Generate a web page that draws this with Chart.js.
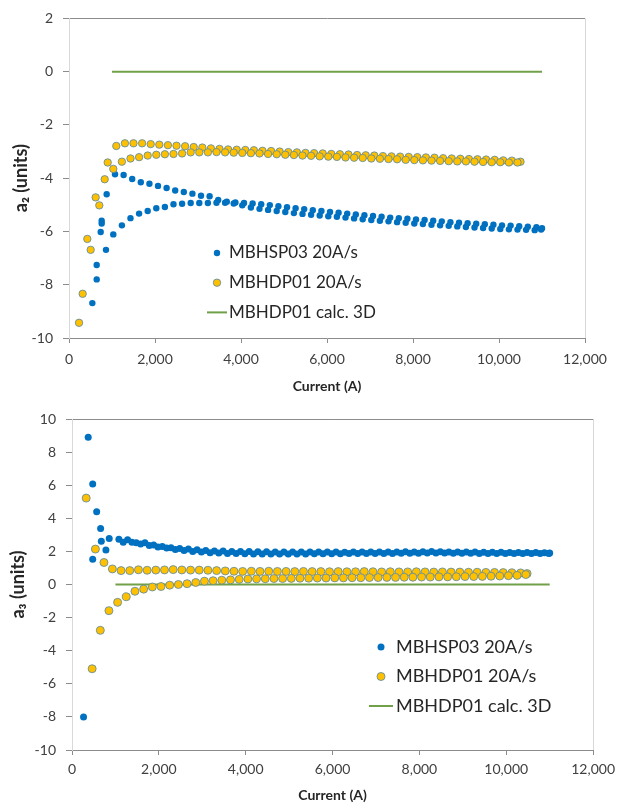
<!DOCTYPE html>
<html>
<head>
<meta charset="utf-8">
<script src="https://cdn.jsdelivr.net/npm/chart.js@4.4.1/dist/chart.umd.min.js"></script>
<style>
  html, body { margin: 0; padding: 0; background: #ffffff; overflow: hidden; }
  #c1 { position: absolute; left: 0; top: 0; }
  #c2 { position: absolute; left: 0; top: 400px; }
</style>
</head>
<body>
<canvas id="c1" width="621" height="400"></canvas>
<canvas id="c2" width="621" height="406"></canvas>
<script>
// ---------------- DATA ----------------
const seriesLabels = ['MBHSP03 20A/s', 'MBHDP01 20A/s', 'MBHDP01 calc. 3D'];
const xTitle = 'Current (A)';
const yTitleA2 = 'a\u2082 (units)';
const yTitleA3 = 'a\u2083 (units)';

// ---- a2, MBHSP03 ----
const hsp03A2StartI = [543, 644, 644, 737, 760, 760, 860, 876];
const hsp03A2Start  = [-8.69, -7.80, -7.26, -6.02, -5.60, -5.70, -6.69, -4.60];
const hsp03A2UpperI = [1070,1270,1470,1670,1870,2070,2270,2470,2670,2870,3070,3270,3470,3670,3870,4070,4270,4470,4670,4870,5070,5270,5470,5670,5870,6070,6270,6470,6670,6870,7070,7270,7470,7670,7870,8070,8270,8470,8670,8870,9070,9270,9470,9670,9870,10070,10270,10470,10670,10870,11000];
const hsp03A2Upper  = [-3.85,-3.88,-4.03,-4.15,-4.21,-4.29,-4.37,-4.46,-4.52,-4.58,-4.66,-4.68,-4.82,-4.88,-4.91,-4.93,-4.95,-4.98,-5.01,-5.05,-5.09,-5.13,-5.16,-5.20,-5.23,-5.27,-5.30,-5.33,-5.36,-5.39,-5.42,-5.45,-5.48,-5.50,-5.52,-5.55,-5.57,-5.60,-5.62,-5.65,-5.67,-5.69,-5.71,-5.73,-5.75,-5.77,-5.78,-5.80,-5.82,-5.84,-5.88];
const hsp03A2LowerI = [1030,1230,1430,1630,1830,2030,2230,2430,2630,2830,3030,3230,3430,3630,3830,4030,4230,4430,4630,4830,5030,5230,5430,5630,5830,6030,6230,6430,6630,6830,7030,7230,7430,7630,7830,8030,8230,8430,8630,8830,9030,9230,9430,9630,9830,10030,10230,10430,10630,10830,10980];
const hsp03A2Lower  = [-6.11,-5.77,-5.50,-5.33,-5.23,-5.13,-5.08,-4.98,-4.96,-4.93,-4.93,-4.93,-4.92,-4.92,-4.95,-5.02,-5.10,-5.15,-5.19,-5.23,-5.27,-5.31,-5.34,-5.37,-5.40,-5.43,-5.45,-5.48,-5.51,-5.54,-5.57,-5.60,-5.62,-5.65,-5.67,-5.70,-5.72,-5.75,-5.77,-5.79,-5.81,-5.83,-5.85,-5.87,-5.89,-5.91,-5.92,-5.93,-5.94,-5.95,-5.93];

// ---- a2, MBHDP01 ----
const hdp01A2StartI = [233, 318, 426, 504, 620, 705, 830, 900];
const hdp01A2Start  = [-9.43, -8.34, -6.28, -6.69, -4.72, -5.02, -4.04, -3.41];
const hdp01A2UpperI = [1100,1300,1500,1700,1900,2100,2300,2500,2700,2900,3100,3300,3500,3700,3900,4100,4300,4500,4700,4900,5100,5300,5500,5700,5900,6100,6300,6500,6700,6900,7100,7300,7500,7700,7900,8100,8300,8500,8700,8900,9100,9300,9500,9700,9900,10100,10300,10500];
const hdp01A2Upper  = [-2.79,-2.69,-2.69,-2.69,-2.72,-2.74,-2.76,-2.78,-2.80,-2.83,-2.85,-2.88,-2.90,-2.92,-2.93,-2.94,-2.95,-2.97,-2.98,-3.00,-3.02,-3.03,-3.05,-3.06,-3.07,-3.09,-3.10,-3.11,-3.13,-3.14,-3.15,-3.17,-3.18,-3.19,-3.20,-3.21,-3.22,-3.23,-3.25,-3.26,-3.27,-3.28,-3.29,-3.30,-3.31,-3.33,-3.34,-3.38];
const hdp01A2LowerI = [1030,1230,1430,1630,1830,2030,2230,2430,2630,2830,3030,3230,3430,3630,3830,4030,4230,4430,4630,4830,5030,5230,5430,5630,5830,6030,6230,6430,6630,6830,7030,7230,7430,7630,7830,8030,8230,8430,8630,8830,9030,9230,9430,9630,9830,10030,10230,10430];
const hdp01A2Lower  = [-3.65,-3.38,-3.26,-3.21,-3.15,-3.12,-3.10,-3.09,-3.07,-3.03,-3.03,-3.03,-3.02,-3.03,-3.04,-3.05,-3.06,-3.07,-3.09,-3.10,-3.12,-3.13,-3.15,-3.16,-3.18,-3.19,-3.20,-3.22,-3.23,-3.24,-3.26,-3.27,-3.28,-3.29,-3.31,-3.32,-3.33,-3.34,-3.35,-3.36,-3.37,-3.37,-3.38,-3.39,-3.40,-3.40,-3.41,-3.41];

// ---- a3, MBHSP03 ----
const hsp03A3StartI = [266, 373, 477, 477, 568, 659, 675, 781, 857];
const hsp03A3Start  = [-8.0, 8.9, 6.07, 1.53, 4.40, 3.39, 2.62, 2.08, 2.78];
const hsp03A3UpperI = [1080,1280,1480,1680,1880,2080,2280,2480,2680,2880,3080,3280,3480,3680,3880,4080,4280,4480,4680,4880,5080,5280,5480,5680,5880,6080,6280,6480,6680,6880,7080,7280,7480,7680,7880,8080,8280,8480,8680,8880,9080,9280,9480,9680,9880,10080,10280,10480,10680,10880,11000];
const hsp03A3Upper  = [2.74,2.70,2.52,2.52,2.38,2.30,2.22,2.18,2.14,2.10,2.05,2.03,2.02,2.00,2.00,1.99,1.98,1.98,1.97,1.97,1.96,1.96,1.96,1.97,1.96,1.96,1.95,1.96,1.96,1.97,1.96,1.97,1.97,1.98,1.97,1.98,1.99,1.98,1.97,1.97,1.96,1.96,1.95,1.95,1.95,1.94,1.94,1.94,1.93,1.92,1.90];
const hsp03A3LowerI = [1180,1380,1580,1780,1980,2180,2380,2580,2780,2980,3180,3380,3580,3780,3980,4180,4380,4580,4780,4980,5180,5380,5580,5780,5980,6180,6380,6580,6780,6980,7180,7380,7580,7780,7980,8180,8380,8580,8780,8980,9180,9380,9580,9780,9980,10180,10380,10580,10780,10980];
const hsp03A3Lower  = [2.56,2.55,2.44,2.35,2.26,2.20,2.12,2.06,2.00,1.96,1.92,1.90,1.88,1.87,1.86,1.85,1.85,1.85,1.84,1.85,1.85,1.85,1.86,1.86,1.86,1.86,1.87,1.87,1.87,1.88,1.88,1.88,1.89,1.89,1.89,1.90,1.90,1.90,1.89,1.89,1.89,1.88,1.88,1.88,1.88,1.88,1.87,1.87,1.87,1.88];

// ---- a3, MBHDP01 ----
const hdp01A3StartI = [327, 464, 539, 652, 736];
const hdp01A3Start  = [5.22, -5.09, 2.14, -2.77, 1.33];
const hdp01A3UpperI = [930,1130,1330,1530,1730,1930,2130,2330,2530,2730,2930,3130,3330,3530,3730,3930,4130,4330,4530,4730,4930,5130,5330,5530,5730,5930,6130,6330,6530,6730,6930,7130,7330,7530,7730,7930,8130,8330,8530,8730,8930,9130,9330,9530,9730,9930,10130,10330,10480];
const hdp01A3Upper  = [0.94,0.84,0.84,0.89,0.86,0.87,0.88,0.90,0.88,0.87,0.87,0.86,0.84,0.82,0.80,0.79,0.80,0.79,0.80,0.79,0.79,0.78,0.79,0.78,0.78,0.77,0.78,0.77,0.77,0.78,0.77,0.76,0.77,0.76,0.76,0.77,0.76,0.75,0.76,0.75,0.75,0.74,0.74,0.73,0.73,0.72,0.71,0.70,0.66];
const hdp01A3LowerI = [850,1050,1250,1450,1650,1850,2050,2250,2450,2650,2850,3050,3250,3450,3650,3850,4050,4250,4450,4650,4850,5050,5250,5450,5650,5850,6050,6250,6450,6650,6850,7050,7250,7450,7650,7850,8050,8250,8450,8650,8850,9050,9250,9450,9650,9850,10050,10250,10450];
const hdp01A3Lower  = [-1.58,-1.08,-0.74,-0.41,-0.28,-0.15,-0.12,-0.04,0.00,0.05,0.12,0.20,0.23,0.26,0.28,0.31,0.33,0.34,0.35,0.36,0.36,0.37,0.38,0.38,0.39,0.39,0.40,0.40,0.41,0.41,0.42,0.42,0.43,0.43,0.44,0.44,0.45,0.45,0.46,0.46,0.47,0.48,0.48,0.49,0.50,0.51,0.53,0.55,0.60];

// ---- calculated 3D ----
const calcI  = [1000, 11000];
const calcA2 = [0, 0];
const calcA3 = [0, 0];

// ---- axes ----
const xMin = 0, xMax = 12000, xStep = 2000;
const a2Min = -10, a2Max = 2, a2Step = 2;
const a3Min = -10, a3Max = 10, a3Step = 2;

// ---------------- HELPERS ----------------
function pts(xs, ys) { return xs.map((x, i) => ({ x: x, y: ys[i] })); }

const FONT = 'Lato, "Open Sans", "DejaVu Sans", sans-serif';
const BLUE = '#0070C0';
const YELLOW = '#FFC000';
const YELLOW_EDGE = 'rgba(95,140,160,0.85)';
const GREEN = '#70A048';
const AXIS_DARK = '#8C8C8C';
const AXIS_LIGHT = '#D9D9D9';
const TEXT = '#404040';

const insideLegend = {
  id: 'insideLegend',
  afterDatasetsDraw(chart, args, o) {
    if (!o || !o.show) return;
    const ctx = chart.ctx;
    ctx.save();
    ctx.font = o.font;
    ctx.textAlign = 'left';
    ctx.textBaseline = 'middle';
    chart.data.datasets.forEach((ds, i) => {
      const y = o.y + i * o.gap;
      if (ds.showLine) {
        ctx.strokeStyle = ds.borderColor;
        ctx.lineWidth = ds.borderWidth;
        ctx.beginPath();
        ctx.moveTo(o.x - o.lineHalf, y);
        ctx.lineTo(o.x + o.lineHalf, y);
        ctx.stroke();
      } else {
        ctx.beginPath();
        ctx.arc(o.x, y, ds.pointRadius, 0, Math.PI * 2);
        ctx.fillStyle = ds.backgroundColor;
        ctx.fill();
        if (ds.borderWidth) {
          ctx.strokeStyle = ds.borderColor;
          ctx.lineWidth = ds.borderWidth;
          ctx.stroke();
        }
      }
      ctx.fillStyle = o.color;
      ctx.fillText(ds.label, o.textX, y);
    });
    ctx.restore();
  }
};

function makeChart(id, cfg) {
  const datasets = [
    {
      label: seriesLabels[0],
      data: cfg.blue,
      backgroundColor: BLUE,
      borderColor: BLUE,
      borderWidth: 0,
      pointRadius: cfg.blueR,
      pointHoverRadius: cfg.blueR,
      showLine: false,
      order: 3
    },
    {
      label: seriesLabels[1],
      data: cfg.yellow,
      backgroundColor: YELLOW,
      borderColor: YELLOW_EDGE,
      borderWidth: 1,
      pointRadius: cfg.yellowR,
      pointHoverRadius: cfg.yellowR,
      showLine: false,
      order: 1
    },
    {
      label: seriesLabels[2],
      data: cfg.calc,
      borderColor: GREEN,
      backgroundColor: GREEN,
      borderWidth: 2,
      pointRadius: 0,
      showLine: true,
      order: 2
    }
  ];
  return new Chart(document.getElementById(id), {
    type: 'scatter',
    data: { datasets: datasets },
    plugins: [insideLegend],
    options: {
      responsive: false,
      animation: false,
      devicePixelRatio: 1,
      layout: { padding: cfg.padding },
      plugins: {
        legend: { display: false },
        tooltip: { enabled: false },
        insideLegend: Object.assign({ show: true, color: '#262626' }, cfg.legend)
      },
      scales: {
        x: {
          type: 'linear',
          min: xMin, max: xMax,
          afterFit: s => { s.height = cfg.xHeight; },
          ticks: {
            stepSize: xStep,
            color: TEXT,
            font: { family: FONT, size: 14 },
            padding: cfg.xTickPad,
            maxRotation: 0,
            callback: v => Number(v).toLocaleString('en-US')
          },
          grid: {
            color: c => (c.tick && c.tick.value === xMax) ? AXIS_LIGHT : 'rgba(0,0,0,0)',
            tickColor: AXIS_DARK,
            tickLength: 5,
            lineWidth: 1
          },
          border: { display: true, color: AXIS_DARK, width: 1 },
          title: {
            display: true,
            text: xTitle,
            color: '#262626',
            font: { family: FONT, size: 14, weight: 'bold' },
            padding: { top: 0, bottom: cfg.xTitlePad }
          }
        },
        y: {
          type: 'linear',
          min: cfg.yMin, max: cfg.yMax,
          afterFit: s => { s.width = cfg.yWidth; },
          ticks: {
            stepSize: cfg.yStep,
            color: TEXT,
            font: { family: FONT, size: 14 },
            padding: 10
          },
          grid: {
            color: c => (c.tick && c.tick.value === cfg.yMax) ? AXIS_DARK : 'rgba(0,0,0,0)',
            tickColor: AXIS_DARK,
            tickLength: 6,
            lineWidth: 1
          },
          border: { display: true, color: AXIS_LIGHT, width: 1 },
          title: {
            display: true,
            text: cfg.yTitle,
            color: '#262626',
            font: { family: FONT, size: 18, weight: 'bold' },
            padding: { top: cfg.yTitlePad, bottom: 0 }
          }
        }
      }
    }
  });
}

makeChart('c1', {
  blue: pts(hsp03A2StartI, hsp03A2Start).concat(pts(hsp03A2UpperI, hsp03A2Upper), pts(hsp03A2LowerI, hsp03A2Lower)),
  yellow: pts(hdp01A2StartI, hdp01A2Start).concat(pts(hdp01A2UpperI, hdp01A2Upper), pts(hdp01A2LowerI, hdp01A2Lower)),
  calc: pts(calcI, calcA2),
  blueR: 3.2, yellowR: 3.7,
  yMin: a2Min, yMax: a2Max, yStep: a2Step,
  yTitle: yTitleA2,
  padding: { top: 15, right: 36, left: 0, bottom: 0 },
  yWidth: 69, xHeight: 62,
  xTickPad: 8, xTitlePad: 5, yTitlePad: 10,
  legend: { x: 217, y: 253, gap: 29.7, textX: 229, lineHalf: 10, font: '17px ' + FONT }
});

makeChart('c2', {
  blue: pts(hsp03A3StartI, hsp03A3Start).concat(pts(hsp03A3UpperI, hsp03A3Upper), pts(hsp03A3LowerI, hsp03A3Lower)),
  yellow: pts(hdp01A3StartI, hdp01A3Start).concat(pts(hdp01A3UpperI, hdp01A3Upper), pts(hdp01A3LowerI, hdp01A3Lower)),
  calc: pts(calcI, calcA3),
  blueR: 3.5, yellowR: 4,
  yMin: a3Min, yMax: a3Max, yStep: a3Step,
  yTitle: yTitleA3,
  padding: { top: 19, right: 21, left: 0, bottom: 0 },
  yWidth: 72, xHeight: 56,
  xTickPad: 6, xTitlePad: 2, yTitlePad: 7,
  legend: { x: 381, y: 247, gap: 29.5, textX: 396, lineHalf: 12, font: '18px ' + FONT }
});
</script>
</body>
</html>
